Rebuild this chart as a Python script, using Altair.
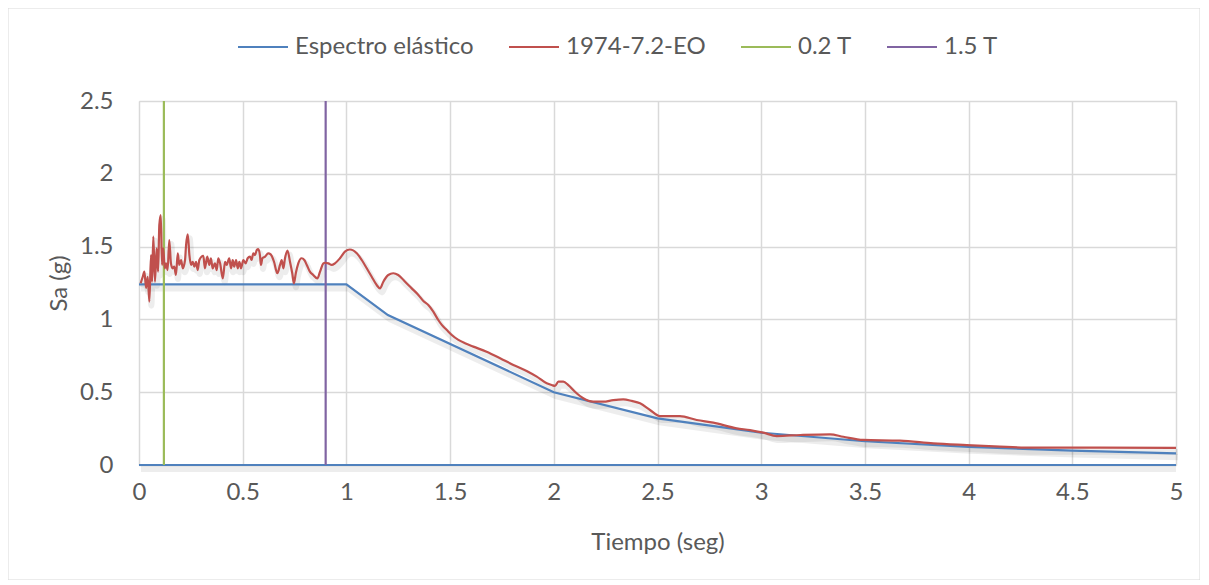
import altair as alt
import pandas as pd

# ---------------- data ----------------
SERIES = ["Espectro elástico", "1974-7.2-EO", "0.2 T", "1.5 T"]
COLORS = ["#4F81BD", "#C0504D", "#9BBB59", "#8064A2"]

# Elastic spectrum (Espectro elástico)
T_SPEC = [0.0, 1.0, 1.2, 2.0, 2.5, 3.0, 3.5, 4.0, 4.5, 5.0]
SA_SPEC = [1.24, 1.24, 1.03, 0.50, 0.32, 0.222, 0.163, 0.125, 0.099, 0.08]

# Record spectrum 1974-7.2-EO
T_REC = [0.008, 0.018, 0.026, 0.034, 0.042, 0.050, 0.058, 0.063, 0.069, 0.077,
         0.085, 0.092, 0.098, 0.105, 0.111, 0.117, 0.124, 0.130, 0.138, 0.146,
         0.154, 0.162, 0.170, 0.178, 0.187, 0.194, 0.203, 0.211, 0.222, 0.227,
         0.235, 0.243, 0.251, 0.259, 0.267, 0.275, 0.283, 0.291, 0.310, 0.318,
         0.329, 0.339, 0.347, 0.355, 0.366, 0.375, 0.382, 0.391, 0.404, 0.415,
         0.423, 0.435, 0.444, 0.452, 0.459, 0.468, 0.476, 0.484, 0.492, 0.503,
         0.514, 0.524, 0.535, 0.543, 0.551, 0.559, 0.568, 0.575, 0.583, 0.588,
         0.595, 0.608, 0.623, 0.635, 0.651, 0.667, 0.680, 0.688, 0.696, 0.704,
         0.716, 0.728, 0.739, 0.747, 0.756, 0.768, 0.784, 0.797, 0.809, 0.824,
         0.840, 0.860, 0.873, 0.889, 0.897, 0.913, 0.929, 0.945, 0.969, 0.993,
         1.017, 1.050, 1.074, 1.098, 1.122, 1.146, 1.162, 1.178, 1.202, 1.226,
         1.250, 1.283, 1.315, 1.347, 1.371, 1.395, 1.419, 1.443, 1.460, 1.484,
         1.508, 1.540, 1.572, 1.612, 1.676, 1.741, 1.805, 1.869, 1.918, 1.966,
         1.990, 2.006, 2.022, 2.046, 2.070, 2.102, 2.142, 2.190, 2.239, 2.287,
         2.335, 2.376, 2.416, 2.464, 2.512, 2.608, 2.689, 2.769, 2.882, 2.946,
         3.010, 3.075, 3.189, 3.332, 3.396, 3.492, 3.669, 3.830, 3.991, 4.151,
         4.311, 4.634, 5.000]
SA_REC = [1.248, 1.293, 1.328, 1.216, 1.293, 1.122, 1.442, 1.259, 1.568, 1.259,
          1.488, 1.328, 1.648, 1.717, 1.374, 1.488, 1.351, 1.385, 1.339, 1.545,
          1.385, 1.351, 1.362, 1.305, 1.454, 1.374, 1.408, 1.351, 1.408, 1.511,
          1.584, 1.442, 1.374, 1.396, 1.362, 1.396, 1.339, 1.408, 1.437, 1.351,
          1.431, 1.374, 1.420, 1.351, 1.385, 1.339, 1.420, 1.385, 1.282, 1.396,
          1.374, 1.420, 1.351, 1.408, 1.362, 1.408, 1.351, 1.396, 1.351, 1.408,
          1.385, 1.420, 1.431, 1.408, 1.454, 1.442, 1.477, 1.483, 1.442, 1.374,
          1.420, 1.431, 1.454, 1.447, 1.396, 1.317, 1.374, 1.408, 1.351, 1.420,
          1.473, 1.396, 1.317, 1.248, 1.317, 1.385, 1.420, 1.408, 1.374, 1.328,
          1.305, 1.282, 1.328, 1.385, 1.389, 1.385, 1.374, 1.385, 1.420, 1.465,
          1.480, 1.454, 1.408, 1.351, 1.293, 1.236, 1.213, 1.259, 1.305, 1.317,
          1.305, 1.259, 1.213, 1.168, 1.126, 1.099, 1.053, 0.996, 0.962, 0.927,
          0.893, 0.859, 0.836, 0.813, 0.778, 0.733, 0.687, 0.646, 0.607, 0.561,
          0.549, 0.543, 0.572, 0.572, 0.549, 0.503, 0.458, 0.435, 0.435, 0.446,
          0.451, 0.440, 0.424, 0.378, 0.336, 0.336, 0.309, 0.291, 0.252, 0.240,
          0.222, 0.199, 0.206, 0.211, 0.194, 0.172, 0.167, 0.149, 0.137, 0.126,
          0.119, 0.119, 0.117]

# Vertical reference lines
T_02 = 0.12
T_15 = 0.90
V_Y = [0.0, 2.5]

X_TICKS = [0, 0.5, 1, 1.5, 2, 2.5, 3, 3.5, 4, 4.5, 5]
Y_TICKS = [0, 0.5, 1, 1.5, 2, 2.5]

# ---------------- tables ----------------
spec_df = pd.DataFrame({"T": T_SPEC, "Sa": SA_SPEC, "serie": SERIES[0]})
rec_df = pd.DataFrame({"T": T_REC, "Sa": SA_REC, "serie": SERIES[1]})
vert_df = pd.DataFrame({
    "T": [T_02, T_02, T_15, T_15],
    "Sa": V_Y + V_Y,
    "serie": [SERIES[2], SERIES[2], SERIES[3], SERIES[3]],
})
zero_df = pd.DataFrame({"T0": [0.0], "T1": [5.0], "Sa": [0.0]})
frame_df = pd.DataFrame({"a": [0]})

FONT = "Lato"
FS = 24
GRAY = "#595959"

xscale = alt.Scale(domain=[0, 5], nice=False, zero=False)
yscale = alt.Scale(domain=[0, 2.5], nice=False)
cscale = alt.Scale(domain=SERIES, range=COLORS)

legend = alt.Legend(
    title=None, orient="none", direction="horizontal",
    legendX=98, legendY=-80, symbolType="stroke", symbolSize=2500,
    symbolStrokeWidth=2, labelFont=FONT, labelFontSize=FS, labelColor=GRAY,
    labelOffset=6, columnPadding=31, padding=0, labelLimit=400,
)

x_axis = alt.Axis(
    values=X_TICKS, format="~g", title="Tiempo (seg)", grid=True,
    gridColor="#d9d9d9", gridWidth=1.5, ticks=False, domain=False,
    labelFont=FONT, labelFontSize=FS, labelColor=GRAY, labelPadding=15,
    labelFlush=False,
    titleFont=FONT, titleFontSize=FS, titleColor=GRAY, titleFontWeight="normal",
    titleY=77, titleBaseline="middle",
)
y_axis = alt.Axis(
    values=Y_TICKS, format="~g", title="Sa (g)", grid=True,
    gridColor="#d9d9d9", gridWidth=1.5, ticks=False, domain=False,
    labelFont=FONT, labelFontSize=FS, labelColor=GRAY, labelPadding=26,
    labelFlush=False,
    titleFont=FONT, titleFontSize=FS, titleColor=GRAY, titleFontWeight="normal",
    titleX=-80, titleBaseline="middle",
)

frame = alt.Chart(frame_df).mark_rect(
    filled=False, stroke="#d9d9d9", strokeWidth=1
).encode(
    x=alt.value(-131), x2=alt.value(1061), y=alt.value(-93), y2=alt.value(479)
)

SH = dict(color="#000000", opacity=0.07, strokeWidth=6, xOffset=2, yOffset=4)

zero_shadow = alt.Chart(zero_df).mark_rule(**SH).encode(
    x=alt.X("T0:Q", scale=xscale, axis=x_axis), x2="T1:Q",
    y=alt.Y("Sa:Q", scale=yscale, axis=y_axis),
)
spec_shadow = alt.Chart(spec_df).mark_line(**SH).encode(
    x=alt.X("T:Q", scale=xscale, axis=x_axis),
    y=alt.Y("Sa:Q", scale=yscale, axis=y_axis),
)
rec_shadow = alt.Chart(rec_df).mark_line(interpolate="monotone", **SH).encode(
    x=alt.X("T:Q", scale=xscale, axis=x_axis),
    y=alt.Y("Sa:Q", scale=yscale, axis=y_axis),
)

zero_line = alt.Chart(zero_df).mark_rule(color=COLORS[0], strokeWidth=2.2).encode(
    x=alt.X("T0:Q", scale=xscale, axis=x_axis),
    x2="T1:Q",
    y=alt.Y("Sa:Q", scale=yscale, axis=y_axis),
)

spec = alt.Chart(spec_df).mark_line(strokeWidth=2.2).encode(
    x=alt.X("T:Q", scale=xscale, axis=x_axis),
    y=alt.Y("Sa:Q", scale=yscale, axis=y_axis),
    color=alt.Color("serie:N", scale=cscale, legend=legend),
)

rec = alt.Chart(rec_df).mark_line(strokeWidth=2.2, interpolate="monotone").encode(
    x=alt.X("T:Q", scale=xscale, axis=x_axis),
    y=alt.Y("Sa:Q", scale=yscale, axis=y_axis),
    color=alt.Color("serie:N", scale=cscale, legend=legend),
)

vert = alt.Chart(vert_df).mark_line(strokeWidth=2.2).encode(
    x=alt.X("T:Q", scale=xscale, axis=x_axis),
    y=alt.Y("Sa:Q", scale=yscale, axis=y_axis),
    color=alt.Color("serie:N", scale=cscale, legend=legend),
    detail="serie:N",
    order=alt.Order("Sa:Q"),
)

chart = alt.layer(
    frame, zero_shadow, spec_shadow, rec_shadow, zero_line, spec, vert, rec
).properties(
    width=1037, height=364,
    padding={"left": 131, "top": 93, "right": 24, "bottom": 115},
    autosize=alt.AutoSizeParams(type="none"),
).configure_view(stroke=None).configure(background="white")

chart.save("out.html", embed_options={"renderer": "svg", "actions": False})
